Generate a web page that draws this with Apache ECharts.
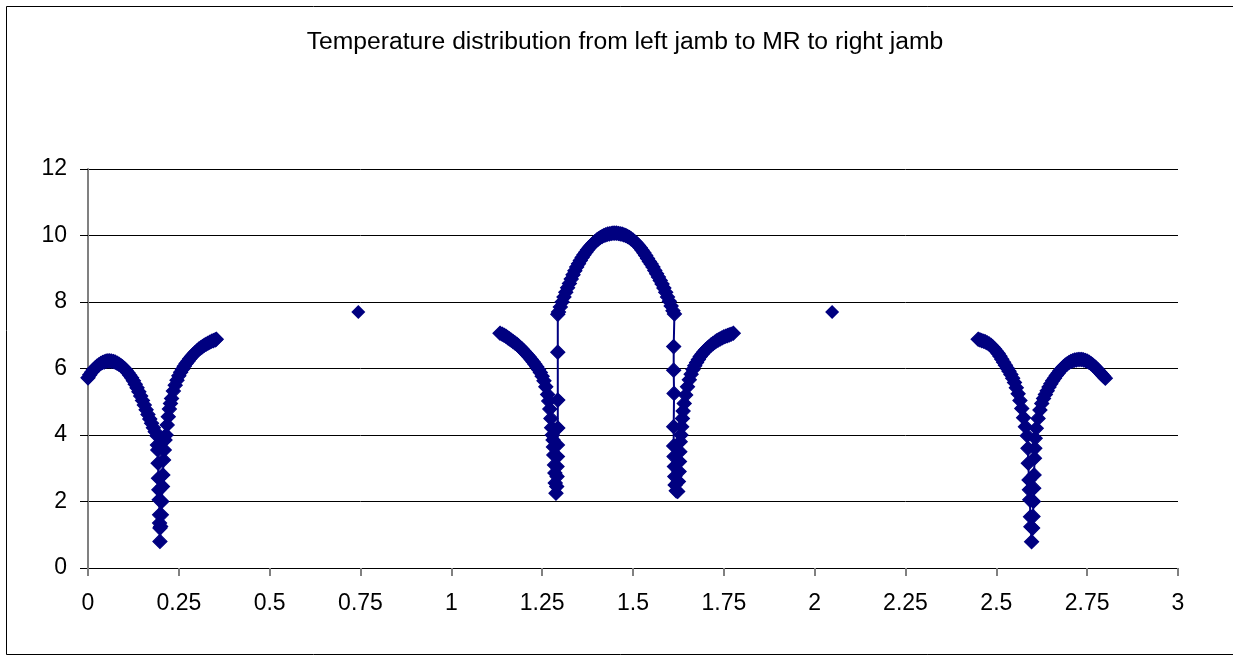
<!DOCTYPE html>
<html>
<head>
<meta charset="utf-8">
<title>Temperature distribution</title>
<script src="https://cdn.jsdelivr.net/npm/echarts@6/dist/echarts.min.js"></script>
<style>
  html, body { margin: 0; padding: 0; background: #fff; }
  #main { width: 1233px; height: 656px; }
</style>
</head>
<body>
<div id="main"></div>
<script>
// x = distance, y = temperature
var leftJamb = [
  [0.000,5.72],[0.005,5.81],[0.010,5.89],[0.015,5.96],[0.020,6.02],[0.025,6.07],[0.030,6.11],[0.035,6.15],
  [0.040,6.18],[0.045,6.20],[0.050,6.22],[0.055,6.23],[0.060,6.23],[0.065,6.22],[0.070,6.21],[0.075,6.19],
  [0.080,6.16],[0.085,6.13],[0.090,6.09],[0.095,6.05],[0.100,6.00],[0.105,5.94],[0.110,5.87],[0.115,5.80],
  [0.120,5.72],[0.125,5.63],[0.130,5.53],[0.135,5.42],[0.140,5.30],[0.145,5.17],[0.150,5.04],[0.155,4.90],
  [0.160,4.76],[0.165,4.62],[0.170,4.48],[0.175,4.35],[0.180,4.22],[0.185,4.10],[0.190,3.98],
  [0.191,3.70],[0.192,3.55],[0.193,3.15],[0.194,2.70],[0.195,2.35],[0.196,2.05],[0.197,1.60],[0.197,1.35],
  [0.198,1.20],[0.198,0.80],
  [0.200,1.25],[0.202,1.60],[0.203,2.00],[0.205,2.45],[0.206,2.80],[0.208,3.25],[0.210,3.55],[0.212,3.85],
  [0.215,4.00],[0.218,4.30],[0.221,4.55],[0.224,4.78],[0.227,4.95],[0.230,5.10],[0.235,5.32],[0.240,5.50],
  [0.245,5.65],[0.250,5.78],[0.255,5.89],[0.260,5.98],[0.265,6.07],[0.270,6.15],[0.275,6.22],[0.280,6.29],
  [0.285,6.36],[0.290,6.42],[0.295,6.48],[0.300,6.53],[0.305,6.58],[0.310,6.62],[0.315,6.66],[0.320,6.70],
  [0.325,6.73],[0.330,6.76],[0.335,6.79],[0.340,6.82],[0.345,6.84],[0.350,6.86],[0.353,6.88]
];

var midLeft = [
  [1.134,7.06],[1.140,7.03],[1.145,7.00],[1.150,6.97],[1.155,6.93],[1.160,6.89],[1.165,6.85],[1.170,6.81],
  [1.175,6.77],[1.180,6.73],[1.185,6.68],[1.190,6.63],[1.195,6.58],[1.200,6.52],[1.205,6.46],[1.210,6.40],
  [1.215,6.34],[1.220,6.27],[1.225,6.20],[1.230,6.13],[1.235,6.05],[1.240,5.97],[1.245,5.88],[1.250,5.77],
  [1.255,5.63],[1.260,5.45],[1.265,5.22],[1.268,5.02],[1.271,4.78],[1.274,4.50],[1.276,4.22],[1.278,4.00],
  [1.280,3.85],[1.281,3.64],[1.282,3.40],[1.284,3.10],[1.285,2.86],[1.286,2.56],[1.288,2.25],
  [1.290,2.45],[1.291,2.75],[1.291,3.05],[1.292,3.35],[1.292,3.70],[1.293,4.21],[1.293,5.05],[1.293,6.49],
  [1.293,7.63]
];

var arch = [
  [1.295,7.70],[1.300,7.85],[1.305,8.00],[1.310,8.15],[1.315,8.29],[1.320,8.43],[1.325,8.56],[1.330,8.69],
  [1.335,8.82],[1.340,8.94],[1.345,9.05],[1.350,9.15],[1.355,9.25],[1.360,9.34],[1.365,9.42],[1.370,9.50],
  [1.375,9.57],[1.380,9.64],[1.385,9.70],[1.390,9.76],[1.395,9.81],[1.400,9.86],[1.405,9.90],[1.410,9.94],
  [1.415,9.97],[1.420,10.00],[1.425,10.02],[1.430,10.04],[1.435,10.05],[1.440,10.06],[1.445,10.07],[1.450,10.07],
  [1.455,10.07],[1.460,10.06],[1.465,10.05],[1.470,10.04],[1.475,10.02],[1.480,10.00],[1.485,9.97],[1.490,9.94],
  [1.495,9.90],[1.500,9.86],[1.505,9.81],[1.510,9.76],[1.515,9.70],[1.520,9.63],[1.525,9.56],[1.530,9.48],
  [1.535,9.40],[1.540,9.31],[1.545,9.22],[1.550,9.14],[1.555,9.05],[1.560,8.95],[1.565,8.85],[1.570,8.75],
  [1.575,8.65],[1.580,8.54],[1.585,8.42],[1.590,8.29],[1.595,8.15],[1.600,8.02],[1.605,7.88],[1.610,7.74],
  [1.614,7.64]
];

var midRight = [
  [1.612,6.66],[1.612,5.95],[1.613,5.25],[1.612,4.25],[1.612,3.67],[1.613,3.35],[1.614,3.05],[1.615,2.75],
  [1.616,2.50],[1.619,2.32],[1.623,2.30],[1.625,2.60],[1.627,2.90],[1.628,3.20],[1.629,3.50],[1.630,3.80],
  [1.632,4.00],[1.634,4.25],[1.636,4.50],[1.638,4.72],[1.641,4.95],[1.645,5.20],[1.650,5.45],[1.655,5.66],
  [1.660,5.83],[1.665,5.97],[1.670,6.08],[1.675,6.18],[1.680,6.27],[1.685,6.36],[1.690,6.43],[1.695,6.50],
  [1.700,6.56],[1.705,6.61],[1.710,6.66],[1.715,6.71],[1.720,6.75],[1.725,6.79],[1.730,6.83],[1.735,6.86],
  [1.740,6.89],[1.745,6.92],[1.750,6.95],[1.755,6.97],[1.760,6.99],[1.765,7.01],[1.770,7.03],[1.776,7.06]
];

var rightJamb = [
  [2.450,6.88],[2.455,6.86],[2.460,6.84],[2.465,6.82],[2.470,6.80],[2.475,6.77],[2.480,6.74],[2.485,6.70],
  [2.490,6.65],[2.495,6.59],[2.500,6.52],[2.505,6.45],[2.510,6.37],[2.515,6.28],[2.520,6.19],[2.525,6.10],
  [2.530,6.01],[2.535,5.92],[2.540,5.82],[2.545,5.71],[2.550,5.58],[2.555,5.42],[2.560,5.24],[2.565,5.04],
  [2.570,4.80],[2.575,4.52],[2.580,4.25],[2.585,3.98],
  [2.587,3.60],[2.588,3.15],[2.590,2.65],[2.591,2.35],[2.592,2.05],[2.594,1.54],[2.595,1.24],[2.597,0.79],
  [2.600,1.20],[2.601,1.55],[2.602,2.00],[2.603,2.40],[2.604,2.80],[2.605,3.30],[2.606,3.60],[2.607,3.90],
  [2.610,4.20],[2.615,4.50],[2.620,4.75],[2.625,4.95],[2.630,5.10],[2.635,5.22],[2.640,5.33],[2.645,5.44],
  [2.650,5.54],[2.655,5.63],[2.660,5.71],[2.665,5.79],[2.670,5.86],[2.675,5.93],[2.680,5.99],[2.685,6.05],
  [2.690,6.10],[2.695,6.14],[2.700,6.18],[2.705,6.21],[2.710,6.23],[2.715,6.25],[2.720,6.26],[2.725,6.27],
  [2.730,6.27],[2.735,6.27],[2.740,6.26],[2.745,6.24],[2.750,6.22],[2.755,6.19],[2.760,6.15],[2.765,6.11],
  [2.770,6.06],[2.775,6.01],[2.780,5.95],[2.785,5.89],[2.790,5.83],[2.795,5.77],[2.800,5.71]
];

var lonePoints = [[0.744,7.70],[2.048,7.70]];

var titleText = 'Temperature distribution from left jamb to MR to right jamb';
var xMin = 0, xMax = 3, xStep = 0.25;
var yMin = 0, yMax = 12, yStep = 2;

var navy = '#000080';
var font = 'Liberation Sans, Arial, sans-serif';
var markSize = 14;

function lineSeries(data) {
  return {
    type: 'line',
    data: data,
    symbol: 'diamond',
    symbolSize: markSize,
    showSymbol: true,
    itemStyle: { color: navy, opacity: 1, borderColor: navy, borderWidth: 1.2 },
    lineStyle: { color: navy, width: 2 },
    emphasis: { disabled: true },
    silent: true
  };
}

var myChart = echarts.init(document.getElementById('main'));
var option = {
  animation: false,
  backgroundColor: '#fff',
  title: {
    text: titleText,
    left: 620,
    top: 25,
    textAlign: 'center',
    textStyle: { fontFamily: font, fontSize: 24.7, fontWeight: 'normal', color: '#000' }
  },
  graphic: [{
    type: 'rect',
    shape: { x: 6.5, y: 6.5, width: 1300, height: 648 },
    style: { fill: 'none', stroke: '#000', lineWidth: 1 },
    silent: true
  }],
  grid: { left: 88, right: 55, top: 169, bottom: 88 },
  xAxis: {
    type: 'value',
    min: xMin, max: xMax, interval: xStep,
    axisLine: { show: true, lineStyle: { color: '#000', width: 1 } },
    axisTick: { show: true, inside: false, length: 8, lineStyle: { color: '#808080', width: 2 } },
    axisLabel: { margin: 24, fontFamily: font, fontSize: 23, color: '#000' },
    splitLine: { show: false }
  },
  yAxis: {
    type: 'value',
    min: yMin, max: yMax, interval: yStep,
    axisLine: { show: true, lineStyle: { color: '#808080', width: 2 } },
    axisTick: { show: true, inside: false, length: 8, lineStyle: { color: '#000', width: 1 } },
    axisLabel: { margin: 21, fontFamily: font, fontSize: 23, color: '#000' },
    splitLine: { show: true, lineStyle: { color: '#000', width: 1 } }
  },
  series: [
    lineSeries(leftJamb),
    lineSeries(midLeft.concat(arch, midRight)),
    lineSeries(rightJamb),
    {
      type: 'scatter',
      data: lonePoints,
      symbol: 'diamond',
      symbolSize: markSize,
      itemStyle: { color: navy, opacity: 1 },
      emphasis: { disabled: true },
      silent: true
    }
  ]
};
myChart.setOption(option);
</script>
</body>
</html>
